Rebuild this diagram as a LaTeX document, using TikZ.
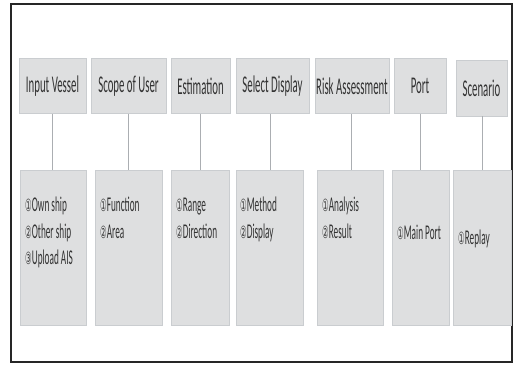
\documentclass[tikz,border=0pt]{standalone}
\usepackage{fontspec}
\setmainfont{Carlito}
\newfontfamily\symfont{DejaVu Sans}
\usepackage{graphicx}
\newcommand{\sqz}[1]{\scalebox{0.45}[1]{#1}}
\newcommand{\sqb}[1]{\scalebox{0.44}[1]{#1}}
\newcommand{\cnum}[1]{{\symfont\scalebox{0.8}{#1}}}
\definecolor{boxfill}{HTML}{DEDFE0}
\definecolor{boxedge}{HTML}{CACDD0}
\definecolor{linkgray}{HTML}{ABAEB2}
\tikzset{
  topbox/.style={rectangle, fill=boxfill, draw=boxedge, line width=0.8pt, inner sep=0pt, font=\fontsize{24}{26}\selectfont, text=black!80},
  lowbox/.style={rectangle, fill=boxfill, draw=boxedge, line width=0.8pt, inner sep=0pt},
  item/.style={anchor=base west, inner sep=0pt, font=\fontsize{21}{23}\selectfont, text=black!80},
  link/.style={draw=linkgray, line width=0.8pt}
}
\begin{document}
\begin{tikzpicture}[x=1pt,y=-1pt]
\useasboundingbox (0,0) rectangle (514,366);
\fill[white] (0,0) rectangle (514,366);
\draw[line width=1.6pt, draw=black!85] (11,4) rectangle (512,362);

% top boxes
\node[topbox, minimum width=67pt, minimum height=55pt] (t1) at (52.5,86) {\sqz{Input Vessel}};
\node[topbox, minimum width=75pt, minimum height=55pt] (t2) at (128.5,86) {\sqz{Scope of User}};
\node[topbox, minimum width=59pt, minimum height=55pt] (t3) at (200.5,86) {\sqz{Estimation}};
\node[topbox, minimum width=73pt, minimum height=55pt] (t4) at (272.5,86) {\sqz{Select Display}};
\node[topbox, minimum width=74pt, minimum height=55pt] (t5) at (352,86) {\sqz{Risk Assessment}};
\node[topbox, minimum width=52pt, minimum height=55pt] (t6) at (420,86) {\sqz{Port}};
\node[topbox, minimum width=51pt, minimum height=56pt] (t7) at (481.5,88) {\sqz{Scenario}};

% bottom boxes
\node[lowbox, minimum width=66pt, minimum height=155pt] (b1) at (53,247.5) {};
\node[lowbox, minimum width=67pt, minimum height=155pt] (b2) at (128.5,247.5) {};
\node[lowbox, minimum width=58pt, minimum height=155pt] (b3) at (200,247.5) {};
\node[lowbox, minimum width=67pt, minimum height=155pt] (b4) at (269.5,247.5) {};
\node[lowbox, minimum width=66pt, minimum height=155pt] (b5) at (350,247.5) {};
\node[lowbox, minimum width=57pt, minimum height=155pt] (b6) at (420.5,247.5) {};
\node[lowbox, minimum width=58pt, minimum height=155pt] (b7) at (482,247.5) {};

% connectors
\draw[link] (t1.south) -- (t1.south |- b1.north);
\draw[link] (t2.south) -- (t2.south |- b2.north);
\draw[link] (t3.south) -- (t3.south |- b3.north);
\draw[link] ([xshift=-2pt]t4.south) -- ([xshift=-2pt]t4.south |- b4.north);
\draw[link] ([xshift=-1pt]t5.south) -- ([xshift=-1pt]t5.south |- b5.north);
\draw[link] (t6.south) -- (t6.south |- b6.north);
\draw[link] ([xshift=1pt]t7.south) -- ([xshift=1pt]t7.south |- b7.north);

% items
\node[item] (i11) at (25,212) {\sqb{\cnum{①}Own ship}};
\node[item] (i12) at (25,238.5) {\sqb{\cnum{②}Other ship}};
\node[item] (i13) at (25,265) {\sqb{\cnum{③}Upload AIS}};
\node[item] (i21) at (100,212) {\sqb{\cnum{①}Function}};
\node[item] (i22) at (100,238.5) {\sqb{\cnum{②}Area}};
\node[item] (i31) at (176,212) {\sqb{\cnum{①}Range}};
\node[item] (i32) at (176,238.5) {\sqb{\cnum{②}Direction}};
\node[item] (i41) at (240,212) {\sqb{\cnum{①}Method}};
\node[item] (i42) at (240,238.5) {\sqb{\cnum{②}Display}};
\node[item] (i51) at (322,212) {\sqb{\cnum{①}Analysis}};
\node[item] (i52) at (322,238.5) {\sqb{\cnum{②}Result}};
\node[item] (i61) at (397,240) {\sqb{\cnum{①}Main Port}};
\node[item] (i71) at (458,244) {\sqb{\cnum{①}Replay}};
\end{tikzpicture}
\end{document}
